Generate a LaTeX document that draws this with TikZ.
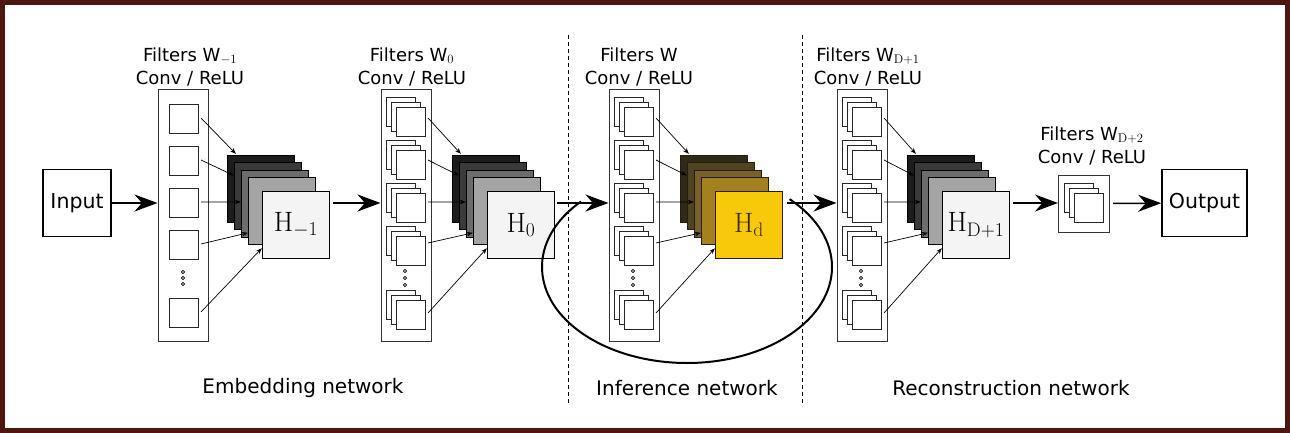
\RequirePackage{fix-cm}
\documentclass[tikz,border=0pt]{standalone}
\usepackage[no-math]{fontspec}
\newfontfamily\dejavu{DejaVu Sans}
\usetikzlibrary{arrows.meta,calc}

\definecolor{framered}{RGB}{78,22,16}
\definecolor{g1}{HTML}{1C1C1C}
\definecolor{g2}{HTML}{3A3A3A}
\definecolor{g3}{HTML}{6C6C6C}
\definecolor{g4}{HTML}{A4A4A4}
\definecolor{g5}{HTML}{F4F4F4}
\definecolor{y1}{HTML}{2C2A18}
\definecolor{y2}{HTML}{4F4422}
\definecolor{y3}{HTML}{76622A}
\definecolor{y4}{HTML}{A3811E}
\definecolor{y5}{HTML}{F8C80A}
\definecolor{ybrd}{HTML}{2A1C06}
\definecolor{hdtxt}{HTML}{3B2A05}

\tikzset{
  box/.style={draw,line width=1.6pt,inner sep=0pt,font=\dejavu\fontsize{20.5}{24}\selectfont},
  filtercol/.style={draw=black!80,line width=1pt,inner sep=0pt,minimum width=50pt,minimum height=251pt},
  kernel/.style={draw=black!85,fill=white,line width=1pt,inner sep=0pt,minimum size=29pt},
  fmap/.style={line width=1.3pt,inner sep=0pt,minimum size=67pt,font=\fontsize{28}{32}\selectfont},
  bigarrow/.style={line width=1.5pt,-{Stealth[length=23pt,width=17pt]}},
  fanarrow/.style={line width=0.7pt,-{Stealth[length=6pt,width=4.5pt]}},
  toplabel/.style={align=center,inner sep=0pt,font=\dejavu\fontsize{18}{23}\selectfont},
  netlabel/.style={font=\dejavu\fontsize{20}{24}\selectfont},
}

\newcommand{\kgroup}[3]{% front kernel centre x, y, name
  \node[kernel] at (#1-10,#2-10) {};
  \node[kernel] at (#1-5,#2-5) {};
  \node[kernel] (#3) at (#1,#2) {};}

\newcommand{\fmaps}[5]{% left x, name, colours, border, label
  \foreach \i/\d/\e in {1/0/0,2/7/7,3/14/15,4/21/22}
    \node[fmap,draw=#4,fill=#3\i] (#2\i) at (#1+34+\d,189+\e) {};
  \node[fmap,draw=#4,fill=#35] (#2) at (#1+69,225) {#5};}

\newcommand{\fanin}[2]{% kernel outputs, maps
  \draw[fanarrow] (#11) -- ([xshift=9pt,yshift=1pt]#21.north west);
  \draw[fanarrow] (#12) -- ($(#22.north west)!0.2!(#22.south west)$);
  \draw[fanarrow] (#13) -- ($(#23.north west)!0.47!(#23.south west)$);
  \draw[fanarrow] (#14) -- ($(#24.north west)!0.82!(#24.south west)$);
  \draw[fanarrow] (#15) -- ($(#2.north west)!0.84!(#2.south west)$);}

\begin{document}
\begin{tikzpicture}[x=1pt,y=-1pt]
  \useasboundingbox (0,0) rectangle (1290,433);
  \fill[framered] (0,0) rectangle (1290,433);
  \fill[white] (5,5) rectangle (1285,428);

  \node[box,minimum width=68pt,minimum height=67pt] (inp) at (77,203) {Input};
  \node[box,minimum width=85pt,minimum height=67pt] (out) at (1204.5,203) {Output};

  % embedding filters
  \node[filtercol] (cola) at (183,215.5) {};
  \foreach \n/\y in {1/119,2/161,3/203,4/245,5/313}{
    \node[kernel] (ka-\n) at (184,\y) {};
    \coordinate (ka\n) at ([xshift=2pt,yshift=1pt]ka-\n.east);}
  \foreach \y in {272,278,284}
    \draw[fill=white,line width=0.8pt] (183,\y) circle (1.6pt);

  \foreach \c/\L in {b/381,c/609,d/837}{
    \node[filtercol] (col\c) at (\L+25,215.5) {};
    \foreach \n/\y/\s in {1/122/4,2/165/5,3/208/6,4/251/8,5/315/2}{
      \kgroup{\L+30}{\y}{k\c-\n}
      \coordinate (k\c\n) at ([xshift=2pt,yshift=\s pt]k\c-\n.east);}
    \foreach \y in {271,278,285}
      \draw[fill=white,line width=0.8pt] (\L+24,\y) circle (1.6pt);
  }

  % feature maps
  \fmaps{227}{ma}{g}{black}{$\mathrm{H}_{-1}$}
  \fmaps{452}{mb}{g}{black}{$\mathrm{H}_0$}
  \fmaps{680}{mc}{y}{ybrd}{\color{hdtxt}$\mathrm{H}_\mathrm{d}$}
  \fmaps{907}{md}{g}{black}{$\mathrm{H}_{\mathrm{D}+1}$}

  \fanin{ka}{ma}
  \fanin{kb}{mb}
  \fanin{kc}{mc}
  \fanin{kd}{md}

  % last filter
  \node[filtercol,minimum width=51pt,minimum height=57pt] (wlast) at (1084,203.5) {};
  \kgroup{1089}{208}{ke}

  % recursion loop
  \coordinate (loopc) at (687,267);
  \draw[line width=2pt] ($(loopc)+(45:145pt and 96pt)$)
    arc[start angle=45,end angle=-223,x radius=145pt,y radius=96pt];

  \draw[bigarrow] (inp) -- (cola.west |- inp);
  \draw[bigarrow,shorten <=3pt] (ma.east |- inp) -- (colb.west |- inp);
  \draw[bigarrow,shorten <=2pt] (mb.east |- inp) -- (colc.west |- inp);
  \draw[bigarrow,shorten <=4pt] (mc.east |- inp) -- (cold.west |- inp);
  \draw[bigarrow,shorten <=3pt] (md.east |- inp) -- (wlast.west |- inp);
  \draw[bigarrow,shorten <=3pt] (wlast) -- (out);

  \draw[line width=1pt,dash pattern=on 4pt off 3pt] (568,35) -- (568,404);
  \draw[line width=1pt,dash pattern=on 4pt off 3pt] (802,35) -- (802,404);

  \node[toplabel,anchor=south] (ta) at (190,86) {Filters W$_{-1}$\\Conv / ReLU};
  \node[toplabel,anchor=south] (tb) at (412,86) {Filters W$_0$\\Conv / ReLU};
  \node[toplabel,anchor=south] (tc) at (639,86) {Filters W\\Conv / ReLU};
  \node[toplabel,anchor=south] (td) at (868,86) {Filters W$_{\mathrm{D}+1}$\\Conv / ReLU};
  \node[toplabel,anchor=south] (te) at (1092,165) {Filters W$_{\mathrm{D}+2}$\\Conv / ReLU};

  \node[netlabel] (na) at (303,388) {Embedding network};
  \node[netlabel] (nb) at (687,388) {Inference network};
  \node[netlabel] (nc) at (1011,388) {Reconstruction network};
\end{tikzpicture}
\end{document}
